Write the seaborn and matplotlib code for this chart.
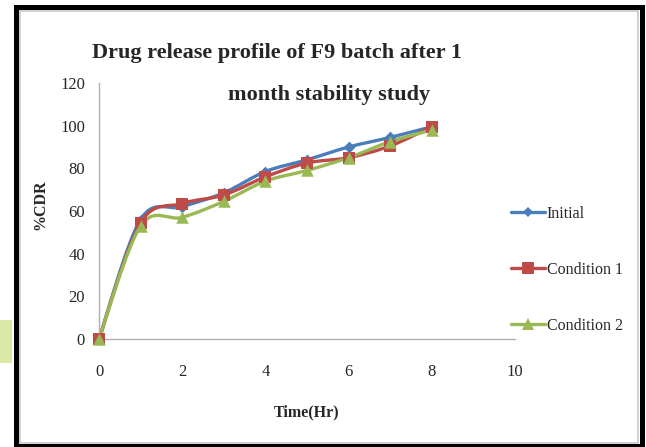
import numpy as np
import pandas as pd
import seaborn as sns
import matplotlib.pyplot as plt
from matplotlib.path import Path
from matplotlib.patches import PathPatch, Rectangle
from matplotlib.lines import Line2D

# Drug release data (% cumulative drug release vs time)
time_hr = [0, 1, 2, 3, 4, 5, 6, 7, 8]
initial = [0, 56, 62, 68.5, 78.5, 84, 90, 94.5, 99.5]
condition1 = [0, 54.5, 63.5, 67.5, 76, 82.5, 85, 90.5, 99.5]
condition2 = [0, 53, 57, 64.5, 74, 79, 85, 92.5, 98]
series_names = ["Initial", "Condition 1", "Condition 2"]

colors = {"Initial": "#4a7ebb", "Condition 1": "#be4b48", "Condition 2": "#98b954"}
markers = {"Initial": "D", "Condition 1": "s", "Condition 2": "^"}
msizes = {"Initial": 6, "Condition 1": 9, "Condition 2": 9}

df = pd.DataFrame({"Time": time_hr * 3,
                   "CDR": initial + condition1 + condition2,
                   "Series": sum([[n] * len(time_hr) for n in series_names], [])})

sns.set_theme(style="white")
plt.rcParams["font.family"] = ["Liberation Serif", "DejaVu Serif"]

W, H = 646, 447
fig = plt.figure(figsize=(W / 100, H / 100), dpi=100)
ax = fig.add_axes([99 / W, 1 - 339 / H, 416 / W, 256 / H])


def smooth_path(xs, ys, t=1 / 6):
    """Bezier path through the points, Excel-style smoothed line."""
    pts = np.column_stack([xs, ys]).astype(float)
    n = len(pts)
    verts = [pts[0]]
    codes = [Path.MOVETO]
    for i in range(n - 1):
        p0 = pts[i - 1] if i > 0 else pts[i]
        p1 = pts[i]
        p2 = pts[i + 1]
        p3 = pts[i + 2] if i + 2 < n else pts[i + 1]
        c1 = p1 + (p2 - p0) * t
        c2 = p2 - (p3 - p1) * t
        verts += [c1, c2, p2]
        codes += [Path.CURVE4] * 3
    return Path(verts, codes)


for name in series_names:
    sub = df[df["Series"] == name]
    ax.add_patch(PathPatch(smooth_path(sub["Time"].values, sub["CDR"].values),
                           facecolor="none", edgecolor=colors[name], lw=2.4,
                           zorder=2, capstyle="round", joinstyle="round", clip_on=False))
    sns.scatterplot(data=sub, x="Time", y="CDR", ax=ax, color=colors[name],
                    marker=markers[name], s=msizes[name] ** 2, edgecolor=colors[name],
                    linewidth=0, zorder=3, legend=False, clip_on=False)

ax.set_xlim(0, 10)
ax.set_ylim(0, 120)
ax.set_xticks(range(0, 11, 2))
ax.set_yticks(range(0, 121, 20))
ax.tick_params(axis="both", labelsize=12, length=0)
ax.tick_params(axis="x", pad=18)
ax.tick_params(axis="y", pad=10)
for side in ["top", "right"]:
    ax.spines[side].set_visible(False)
for side in ["left", "bottom"]:
    ax.spines[side].set_color("#b0b0b0")
    ax.spines[side].set_linewidth(1.0)
ax.set_xlabel("Time(Hr)", fontsize=11.5, fontweight="bold")
ax.set_ylabel("%CDR", fontsize=11.5, fontweight="bold")
ax.xaxis.set_label_coords(0.5, -(412 - 339) / 256, transform=ax.transAxes)
ax.yaxis.set_label_coords(-(99 - 40) / 416, (339 - 205) / 256, transform=ax.transAxes)
ax.xaxis.label.set_va("center")
ax.yaxis.label.set_va("center")

fig.text(277 / W, 1 - 58 / H, "Drug release profile of F9 batch after 1",
         ha="center", va="baseline", fontsize=16, fontweight="bold")
fig.text(329 / W, 1 - 100 / H, "month stability study",
         ha="center", va="baseline", fontsize=16, fontweight="bold")

handles = [Line2D([0], [0], color=colors[n], lw=2.4, marker=markers[n],
                  markersize=msizes[n] * 0.9, markeredgewidth=0) for n in series_names]
fig.legend(handles, series_names, loc="upper left", bbox_to_anchor=(511 / W, 1 - 206 / H),
           frameon=False, fontsize=11.5, handlelength=2.1, handletextpad=0.15,
           labelspacing=2.5, borderaxespad=0, borderpad=0)

# chart frame
fig.patches.append(Rectangle((15.5 / W, 1.5 / H), 627 / W, 1 - 8 / H, transform=fig.transFigure,
                             fill=False, edgecolor="black", lw=3.6, zorder=10))
fig.patches.append(Rectangle((19.5 / W, 4 / H), 618 / W, 1 - 15 / H, transform=fig.transFigure,
                             fill=False, edgecolor="#c8c8c8", lw=1.2, zorder=10))
fig.patches.append(Rectangle((0, 1 - 363 / H), 12 / W, 43 / H, transform=fig.transFigure,
                             facecolor="#dbe9a8", edgecolor="none", zorder=10))

fig.savefig("out.png", dpi=100, facecolor="white")
